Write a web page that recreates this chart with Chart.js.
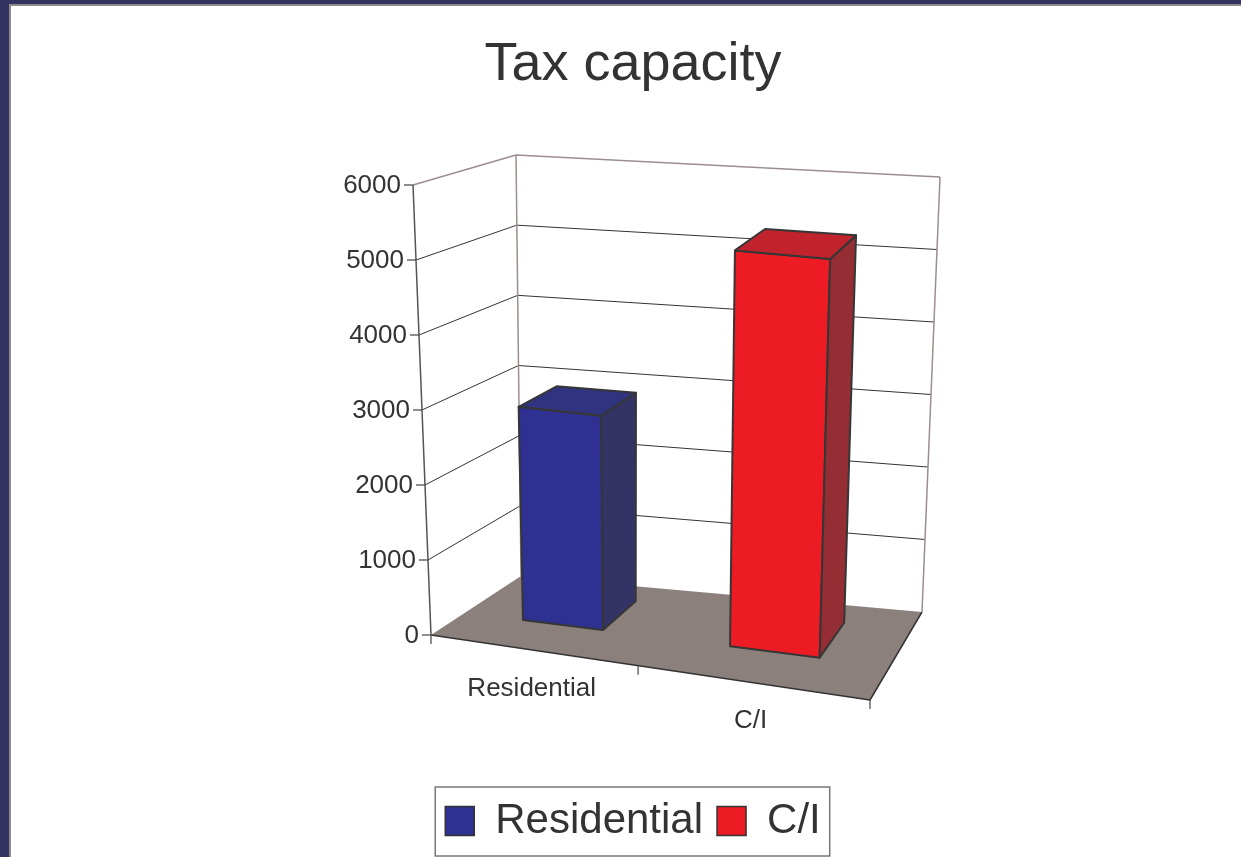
<!DOCTYPE html>
<html>
<head>
<meta charset="utf-8">
<title>Tax capacity</title>
<script src="https://cdn.jsdelivr.net/npm/chart.js@4.4.1/dist/chart.umd.min.js"></script>
<style>
  html, body { margin: 0; padding: 0; }
  body { width: 1241px; height: 857px; background: #333360; overflow: hidden; position: relative; }
  .frame {
    position: absolute; left: 9px; top: 4px;
    width: 1230px; height: 851px;
    border-left: 2px solid #8a8a8a; border-top: 2px solid #8a8a8a;
    background: #fff;
  }
  canvas { display: block; }
</style>
</head>
<body>
<div class="frame"><canvas id="taxChart" width="1230" height="851"></canvas></div>
<script>
// --- datos ---
const categories = ['Residential', 'C/I'];
const taxCapacity = [2900, 5300];
const yTicks = [0, 1000, 2000, 3000, 4000, 5000, 6000];

// colores de las caras (frente, techo, lado)
const faceFront = ['#2e3192', '#ed1c24'];
const faceTop = ['#2f3380', '#c1232c'];
const faceSide = ['#333366', '#952d34'];

const FONT = '"Liberation Sans", Arial, sans-serif';
const TEXT = '#333333';

// caja 3D: esquinas (x,y) en el canvas. F = frente, B = fondo, L/R izq/der, 0 = base, 1 = techo
const box = {
    FL0: [420, 629], FL1: [402, 179], FR0: [859, 694], FR1: [875, 229],
    BL0: [510, 570], BL1: [505, 149], BR0: [911, 606], BR1: [929, 171]
};
const warp = 1.12;          // perspectiva horizontal
const barDepth = [0.38, 0.80];

function lerp(a, b, t) { return [a[0] + (b[0] - a[0]) * t, a[1] + (b[1] - a[1]) * t]; }

function project(u, v, w) {
    const uu = u / (u + warp * (1 - u));
    const f = lerp(lerp(box.FL0, box.FR0, uu), lerp(box.FL1, box.FR1, uu), v);
    const b = lerp(lerp(box.BL0, box.BR0, uu), lerp(box.BL1, box.BR1, uu), v);
    return lerp(f, b, w);
}

function poly(ctx, pts, fill, stroke, lw) {
    ctx.beginPath();
    ctx.moveTo(pts[0][0], pts[0][1]);
    for (let i = 1; i < pts.length; i++) ctx.lineTo(pts[i][0], pts[i][1]);
    ctx.closePath();
    if (fill) { ctx.fillStyle = fill; ctx.fill(); }
    if (stroke) { ctx.strokeStyle = stroke; ctx.lineWidth = lw; ctx.stroke(); }
}

function line(ctx, pts, color, lw) {
    ctx.beginPath();
    ctx.moveTo(pts[0][0], pts[0][1]);
    for (let i = 1; i < pts.length; i++) ctx.lineTo(pts[i][0], pts[i][1]);
    ctx.strokeStyle = color; ctx.lineWidth = lw; ctx.stroke();
}

const bars3d = {
    id: 'bars3d',
    beforeDatasetsDraw(chart) {
        const ctx = chart.ctx;
        const xs = chart.scales.x, ys = chart.scales.y;
        const uOf = px => (px - xs.left) / xs.width;
        const vOf = py => (ys.bottom - py) / ys.height;
        ctx.save();
        ctx.lineJoin = 'round';

        // suelo
        poly(ctx, [project(0, 0, 0), project(1, 0, 0), project(1, 0, 1), project(0, 0, 1)], '#8c807c');
        line(ctx, [project(0, 0, 0), project(1, 0, 0), project(1, 0, 1)], '#333', 1.5);

        // rejilla en paredes
        ys.ticks.forEach(t => {
            const v = vOf(ys.getPixelForValue(t.value));
            if (t.value === 0) return;
            const top = t.value === ys.max;
            line(ctx, [project(0, v, 0), project(0, v, 1), project(1, v, 1)], top ? '#9c8e8c' : '#333', top ? 1.5 : 1);
        });
        line(ctx, [project(0, 0, 1), project(0, 1, 1)], '#9c8e8c', 1.5);
        line(ctx, [project(1, 0, 1), project(1, 1, 1)], '#9c8e8c', 1.5);

        // eje Y
        line(ctx, [project(0, 0, 0), project(0, 1, 0)], '#555', 1.5);
        ctx.font = '26px ' + FONT;
        ctx.fillStyle = TEXT;
        ctx.textAlign = 'right';
        ctx.textBaseline = 'middle';
        ys.ticks.forEach(t => {
            const p = project(0, vOf(ys.getPixelForValue(t.value)), 0);
            line(ctx, [[p[0] - 9, p[1]], p], '#444', 1.2);
            ctx.fillText(String(t.value), p[0] - 12, p[1] + 1);
        });

        // eje X: marcas y etiquetas
        [0, 0.5, 1].forEach(u => {
            const p = project(u, 0, 0);
            line(ctx, [p, [p[0], p[1] + 9]], '#444', 1.2);
        });
        ctx.textAlign = 'center';
        categories.forEach((c, i) => {
            const p = project(uOf(xs.getPixelForValue(i)), 0, 0);
            ctx.fillText(c, p[0], p[1] + 38.5);
        });

        // barras
        const meta = chart.getDatasetMeta(0);
        meta.data.forEach((el, i) => {
            const {x, y, base, width} = el.getProps(['x', 'y', 'base', 'width'], true);
            const u0 = uOf(x - width / 2), u1 = uOf(x + width / 2);
            const v0 = vOf(base), v1 = vOf(y);
            const [w0, w1] = barDepth;
            poly(ctx, [project(u0, v0, w0), project(u1, v0, w0), project(u1, v1, w0), project(u0, v1, w0)], faceFront[i], '#363636', 2);
            poly(ctx, [project(u1, v0, w0), project(u1, v0, w1), project(u1, v1, w1), project(u1, v1, w0)], faceSide[i], '#363636', 2);
            poly(ctx, [project(u0, v1, w0), project(u1, v1, w0), project(u1, v1, w1), project(u0, v1, w1)], faceTop[i], '#363636', 2);
        });
        ctx.restore();
        return false;
    },
    afterDraw(chart) {
        // marco de la leyenda
        const hb = chart.legend.legendHitBoxes;
        if (!hb || !hb.length) return;
        const last = hb[hb.length - 1];
        const ctx = chart.ctx;
        ctx.save();
        ctx.strokeStyle = '#777';
        ctx.lineWidth = 1.5;
        const left = hb[0].left - 10, right = last.left + last.width + 9;
        const top = hb[0].top - 13, bottom = hb[0].top + hb[0].height + 14;
        ctx.strokeRect(left, top, right - left, bottom - top);
        ctx.restore();
    }
};

Chart.defaults.font.family = FONT;
Chart.defaults.color = TEXT;

new Chart(document.getElementById('taxChart'), {
    type: 'bar',
    data: {
        labels: categories,
        datasets: [{
            label: 'Tax capacity',
            data: taxCapacity,
            backgroundColor: faceFront,
            categoryPercentage: 0.8,
            barPercentage: 0.5
        }]
    },
    options: {
        responsive: false,
        animation: false,
        layout: { padding: { left: 14, right: 0, top: 0, bottom: 5 } },
        scales: {
            x: { display: false },
            y: { display: false, min: 0, max: 6000, afterBuildTicks: s => { s.ticks = yTicks.map(v => ({ value: v })); } }
        },
        plugins: {
            title: {
                display: true,
                text: 'Tax capacity',
                color: TEXT,
                font: { size: 54, weight: 'normal' },
                padding: { top: 27, bottom: 10 }
            },
            legend: {
                position: 'bottom',
                labels: {
                    boxWidth: 29,
                    boxHeight: 29,
                    padding: 14,
                    color: TEXT,
                    font: { size: 42 },
                    generateLabels: () => categories.map((c, i) => ({
                        text: c, fillStyle: faceFront[i], strokeStyle: '#333', lineWidth: 1.5,
                        fontColor: TEXT, hidden: false, index: i
                    }))
                }
            },
            tooltip: { enabled: false }
        }
    },
    plugins: [bars3d]
});
</script>
</body>
</html>
